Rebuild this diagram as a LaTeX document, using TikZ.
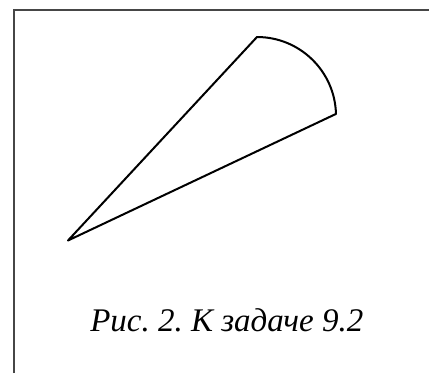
\documentclass[tikz,border=0pt]{standalone}
\usepackage{fontspec}
\setmainfont{Liberation Serif}
\usetikzlibrary{positioning}
\definecolor{framegray}{RGB}{70,70,70}

\begin{document}
\frenchspacing
\begin{tikzpicture}[x=1pt,y=-1pt]
  \useasboundingbox (0,0) rectangle (429,373);
  \draw[framegray,line width=2pt] (13.5,373) -- (13.5,10) -- (429,10);
  % apex, upper corner of the figure, rounded top closing back to the apex
  \coordinate (apex) at (68,240.5);
  \coordinate (top) at (257,37);
  \draw[line width=2pt,line join=round]
    (apex) -- (top) arc[start angle=-90,end angle=-1.5,radius=79] -- cycle;
  \node[font=\itshape\fontsize{33}{40}\selectfont,anchor=base,inner sep=0pt] (cap)
    at (226.8,331.7) {Рис. 2. К задаче 9.2};
\end{tikzpicture}
\end{document}
